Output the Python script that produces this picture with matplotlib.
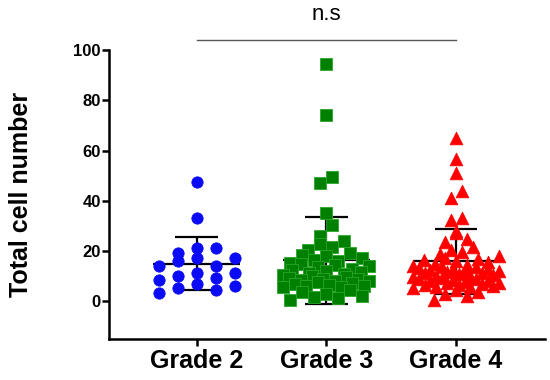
import matplotlib
matplotlib.use("Agg")
import matplotlib.pyplot as plt
import numpy as np

plt.rcParams["font.family"] = ["Liberation Sans", "DejaVu Sans"]

# data
groups = ["Grade 2", "Grade 3", "Grade 4"]

grade2_values = [47.3, 33.2, 19.2, 21.2, 21.2, 17.3, 17.3, 16.2, 14.2, 14.2,
                 11.3, 11.3, 9.3, 10.2, 8.4, 7.0, 6.2, 4.4, 5.3, 3.3]

grade3_values = [94.4, 74.2, 49.5, 47.1, 35.0, 30.5, 25.8,
                 24.0, 22.8, 21.5, 20.3,
                 19.4, 18.6, 17.9, 17.2, 16.5, 15.9, 15.3,
                 14.8, 14.4, 13.9, 13.5, 13.0, 12.6, 12.1, 11.7, 11.3, 10.8, 10.4,
                 10.0, 9.7, 9.2, 9.0, 8.8, 8.4, 8.1, 7.9, 7.5, 7.1, 6.8, 6.6,
                 6.2, 5.9, 5.7, 5.5,
                 4.6, 3.8, 3.1, 2.3, 1.9, 1.4, 0.6]

grade4_values = [65.0, 56.6, 51.0, 44.0, 41.1, 33.2, 32.5, 27.8, 27.3,
                 24.9, 23.4, 21.8, 20.6, 19.6, 18.7,
                 17.9, 17.4, 16.9, 16.4, 16.0, 15.5, 15.0, 14.6, 14.1,
                 13.7, 13.5, 13.3, 13.0, 12.8, 12.5, 12.2, 12.0, 11.7, 11.4,
                 11.1, 10.8, 10.5, 10.2, 9.9, 9.6,
                 9.3, 9.0, 8.8, 8.5, 8.2, 8.0, 7.7, 7.4, 7.1, 6.9, 6.6, 6.3,
                 6.0, 5.8, 5.5, 5.2,
                 4.6, 3.9, 3.0, 2.1, 0.7]

y_ticks = [0, 20, 40, 60, 80, 100]
sig_label = "n.s"


# ----------------------------------------------------------------------
#   Function Name: scatter_positions
#   Parameters:   ax, x_center, values, row_px, gap_px, max_half_px
#   Return Value: x positions (data units) for each value
#   Description:
#    Column-scatter layout: values are grouped into rows one marker
#    high, and each row is spread sideways around the group centre
# ----------------------------------------------------------------------
def scatter_positions(ax, x_center, values, row_px, gap_px, max_half_px):
    values = np.asarray(values, dtype=float)
    pts = ax.transData.transform(
        np.column_stack([np.full(len(values), x_center), values]))
    cx = pts[0, 0]
    ys = pts[:, 1]

    # greedy rows: each row starts at the lowest point not yet used
    order = np.argsort(ys)
    rows = []
    current = [order[0]]
    for point in order[1:]:
        if ys[point] - ys[current[0]] < row_px:
            current.append(point)
        else:
            rows.append(current)
            current = [point]
    rows.append(current)

    xs_px = np.full(len(values), cx)
    for idx in rows:
        idx = np.array(idx)
        n = len(idx)
        if n == 1:
            continue
        spacing = min(gap_px, 2 * max_half_px / (n - 1))
        slots = (np.arange(n) - (n - 1) / 2) * spacing
        # scramble slot order so a row does not look like a staircase
        frac = (np.arange(n) * 0.618034) % 1
        for k, point in enumerate(idx[np.argsort(frac)]):
            xs_px[point] = cx + slots[k]

    back = ax.transData.inverted().transform(np.column_stack([xs_px, ys]))
    return back[:, 0]


fig = plt.figure(figsize=(5.5, 3.8), dpi=100)
ax = fig.add_axes([109 / 550, 1 - 339 / 380, 436 / 550, 289 / 380])
ax.set_xlim(0.324, 3.686)
ax.set_ylim(-15, 100)

# marker, face, edge, size, row height px, gap px, half width px
styles = [
    ("o", "#0a0af5", "#0a0af5", 66, 12.0, 19.0, 38),
    ("s", "#008000", "#2aa52a", 80, 12.0, 12.0, 43),
    ("^", "#ff0000", "#ff0000", 82, 11.0, 11.0, 43),
]
all_values = [grade2_values, grade3_values, grade4_values]

for i, values in enumerate(all_values):
    x_center = i + 1
    marker, face, edge, size, row_px, gap_px, half_px = styles[i]
    xs = scatter_positions(ax, x_center, values, row_px, gap_px, half_px)
    ax.scatter(xs, values, marker=marker, s=size, facecolor=face,
               edgecolor=edge, linewidth=0.6, zorder=3)

    mean = np.mean(values)
    sd = np.std(values, ddof=1)
    ax.hlines(mean, x_center - 0.333, x_center + 0.333, color="black",
              linewidth=1.6, zorder=2)
    ax.hlines([mean - sd, mean + sd], x_center - 0.165, x_center + 0.165,
              color="black", linewidth=1.6, zorder=2)
    ax.vlines(x_center, mean - sd, mean + sd, color="black",
              linewidth=1.6, zorder=2)

# significance bar above the axes
ax.plot([1, 3], [103.8, 103.8], color="#555555", linewidth=1.0,
        clip_on=False)
ax.text(2, 114, sig_label, ha="center", va="center", fontsize=16,
        clip_on=False)

ax.spines["top"].set_visible(False)
ax.spines["right"].set_visible(False)
ax.spines["left"].set_linewidth(1.8)
ax.spines["bottom"].set_linewidth(1.8)

ax.set_yticks(y_ticks)
ax.set_yticklabels([str(t) for t in y_ticks], fontsize=12, fontweight="bold")
ax.set_xticks([1, 2, 3])
ax.set_xticklabels(groups, fontsize=18, fontweight="bold")
ax.tick_params(axis="both", direction="out", length=5, width=1.8)
ax.tick_params(axis="y", pad=1)
ax.tick_params(axis="x", pad=2)

ax.set_ylabel("Total cell number", fontsize=18, fontweight="bold",
              labelpad=29)

fig.savefig("out.png", dpi=100)
plt.close(fig)
